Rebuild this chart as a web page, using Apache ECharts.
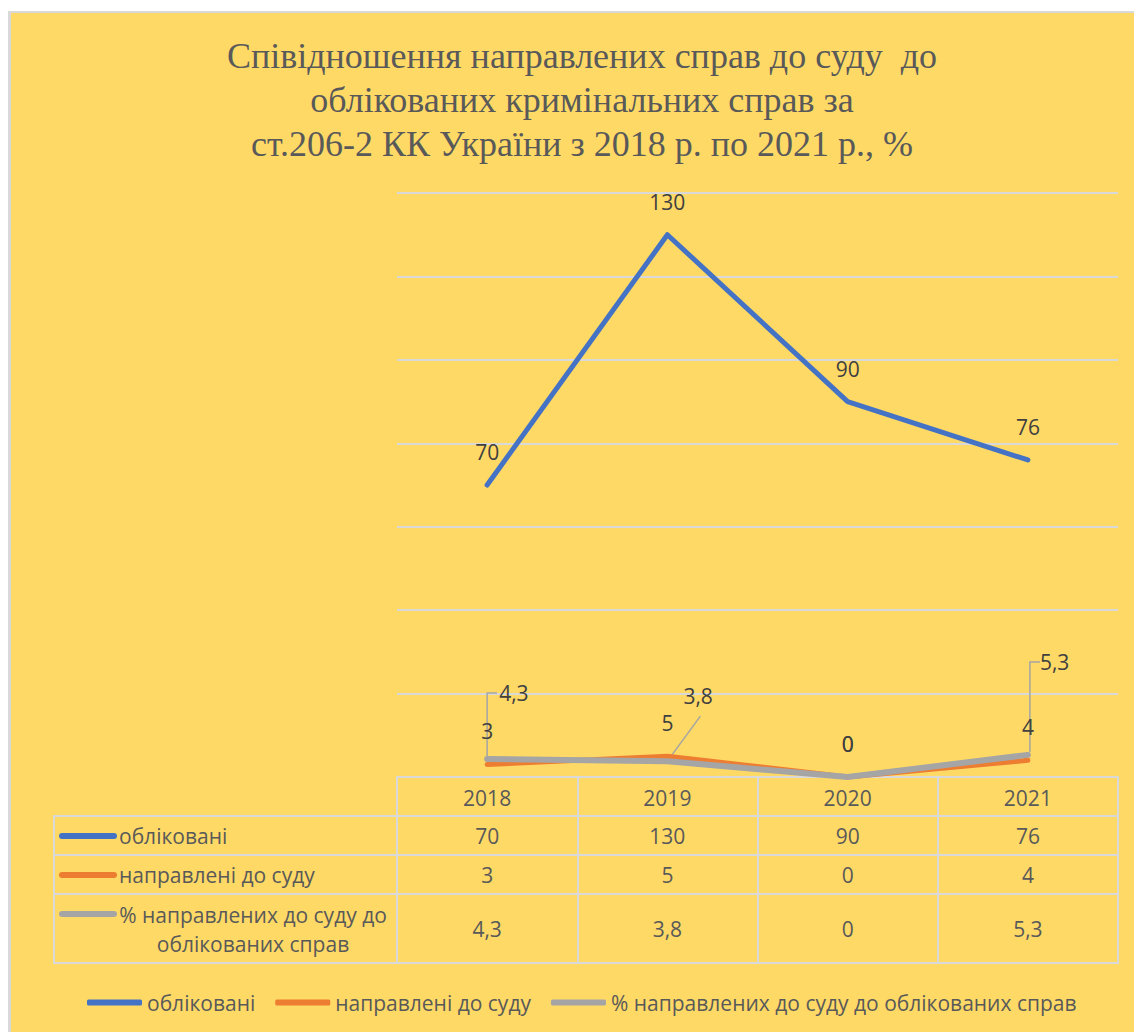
<!DOCTYPE html>
<html><head><meta charset="utf-8">
<script src="https://cdn.jsdelivr.net/npm/echarts/dist/echarts.min.js"></script>
<style>
html,body{margin:0;padding:0;background:#fff;}
#wrap{position:relative;width:1134px;height:1032px;overflow:hidden;}
#chart{position:absolute;left:0;top:0;width:1134px;height:1032px;}
.ov{position:absolute;pointer-events:none;}
</style></head><body>
<div id="wrap"><div id="chart"></div>
<div class="ov" style="left:0;top:0;width:8px;height:1032px;background:#fff"></div>
<div class="ov" style="left:0;top:0;width:1134px;height:11px;background:#fff"></div>
<div class="ov" style="left:8px;top:11px;width:3px;height:1021px;background:#d9d9d9"></div>
<div class="ov" style="left:8px;top:11px;width:1126px;height:2px;background:#d9d9d9"></div>
</div>
<script>
// ---- data ----
const years = ['2018', '2019', '2020', '2021'];
const registered = [70, 130, 90, 76];
const sentToCourt = [3, 5, 0, 4];
const percentSent = [4.3, 3.8, 0, 5.3];
const seriesNames = ['обліковані', 'направлені до суду', '% направлених до суду до облікованих справ'];
const tableRowLabels = ['обліковані', 'направлені до суду', '% направлених до суду до\nоблікованих справ'];
const titleText = 'Співідношення направлених справ до суду  до\nоблікованих кримінальних справ за\nст.206-2 КК України з 2018 р. по 2021 р., %';
const yMin = 0, yMax = 140, yStep = 20;

// ---- styles ----
const colors = ['#4472C4', '#ED7D31', '#A5A5A5'];
const FONT = "'Open Sans', sans-serif";
const FS = 21;
const textColor = '#595959';
const gridColor = '#D9D9D9';
const fmt = v => String(v).replace('.', ',');

const chart = echarts.init(document.getElementById('chart'), null, {renderer: 'svg'});

// gray label placement (pixel shifts from the point) and leader-line shapes (pixel offsets from the point)
const grayLabelShift = [[12, -66], [16, -65], null, [12, -93]];
const grayLeaderPath = [[[0, -3], [0, -66], [10, -66]], [[3, -4], [33, -45]], null, [[2, -3], [2, -93], [12, -93]]];

const rowValues = [registered, sentToCourt, percentSent];
const rowMargins = [49, 88, 142];
const rowAxes = rowValues.map((arr, k) => ({
  type: 'category', data: years, position: 'bottom', offset: 0, gridIndex: 0,
  axisLine: {show: false}, axisTick: {show: false}, splitLine: {show: false},
  axisLabel: {interval: 0, margin: rowMargins[k], fontSize: FS, lineHeight: 20, color: textColor, fontFamily: FONT,
    formatter: (v, i) => fmt(arr[i])}
}));

// table left column & borders
const rowCenters = [836, 875, 929];
const graphic = [];
[816, 855, 894, 963].forEach(y => graphic.push({type: 'line', shape: {x1: 53, y1: y, x2: 1119, y2: y}, style: {stroke: gridColor, lineWidth: 2}, silent: true}));
graphic.push({type: 'line', shape: {x1: 54, y1: 816, x2: 54, y2: 963}, style: {stroke: gridColor, lineWidth: 2}, silent: true});
tableRowLabels.forEach((t, k) => {
  const ky = rowCenters[k] - (k === 2 ? 15 : 0);
  graphic.push({type: 'line', shape: {x1: 62, y1: ky, x2: 114, y2: ky}, style: {stroke: colors[k], lineWidth: 6, lineCap: 'round'}, silent: true});
  graphic.push({type: 'text', x: k === 2 ? 253 : 119, y: rowCenters[k],
    style: {text: t, font: FS + 'px ' + FONT, fill: textColor, align: k === 2 ? 'center' : 'left', verticalAlign: 'middle',
      textAlign: k === 2 ? 'center' : 'left', textVerticalAlign: 'middle', lineHeight: 29}, silent: true});
});

const lineSeries = (name, data, k, width, extra) => Object.assign({
  name, type: 'line', data, symbol: 'circle', symbolSize: 1, showSymbol: true,
  lineStyle: {color: colors[k], width, cap: 'round', join: 'round'},
  itemStyle: {color: colors[k]},
  label: {show: true, position: 'top', distance: 22, fontSize: FS, color: '#404040', fontFamily: FONT, formatter: p => fmt(p.value)},
  emphasis: {disabled: true}, animation: false
}, extra || {});

const option = {
  backgroundColor: '#FFD966',
  animation: false,
  title: {
    text: titleText, left: 577, top: 29, textAlign: 'center',
    textStyle: {fontFamily: "'Liberation Serif', serif", fontSize: 36, fontWeight: 'normal', color: textColor, lineHeight: 44}
  },
  legend: {
    data: seriesNames, left: 87, top: 992, padding: 0, itemGap: 20, itemWidth: 55, itemHeight: 6, icon: 'roundRect',
    textStyle: {fontSize: FS, color: textColor, fontFamily: FONT}, selectedMode: false
  },
  grid: {left: 397, right: 16, top: 193, bottom: 255, containLabel: false},
  xAxis: [{
    type: 'category', data: years, position: 'bottom', boundaryGap: true,
    axisLine: {show: true, lineStyle: {color: gridColor, width: 2}},
    axisTick: {show: true, interval: 0, length: 186, lineStyle: {color: gridColor, width: 2}},
    axisLabel: {interval: 0, margin: 11, fontSize: FS, lineHeight: 20, color: textColor, fontFamily: FONT},
    splitLine: {show: false}
  }].concat(rowAxes),
  yAxis: {
    type: 'value', min: yMin, max: yMax, interval: yStep,
    axisLabel: {show: false}, axisLine: {show: false}, axisTick: {show: false},
    splitLine: {lineStyle: {color: gridColor, width: 2}}
  },
  series: [
    lineSeries(seriesNames[0], registered, 0, 5),
    lineSeries(seriesNames[1], sentToCourt, 1, 5),
    {
      name: 'leaders', type: 'custom', silent: true, z: 1,
      data: percentSent.map((v, i) => [i, v]),
      encode: {x: 0, y: 1},
      renderItem: function (params, api) {
        const i = params.dataIndex;
        const path = grayLeaderPath[i];
        if (!path) return null;
        const p = api.coord([api.value(0), api.value(1)]);
        return {
          type: 'polyline',
          shape: {points: path.map(o => [p[0] + o[0], p[1] + o[1]])},
          style: {stroke: colors[2], lineWidth: 1.5, fill: null}
        };
      }
    },
    lineSeries(seriesNames[2], percentSent, 2, 6, {
      z: 3,
      labelLayout: function (p) {
        const s = grayLabelShift[p.dataIndex];
        if (!s) return {};
        return {x: p.rect.x + p.rect.width / 2 + s[0], y: p.rect.y + p.rect.height / 2 + s[1], align: 'left', verticalAlign: 'middle'};
      }
    })
  ],
  graphic
};
chart.setOption(option);
</script>
</body></html>
